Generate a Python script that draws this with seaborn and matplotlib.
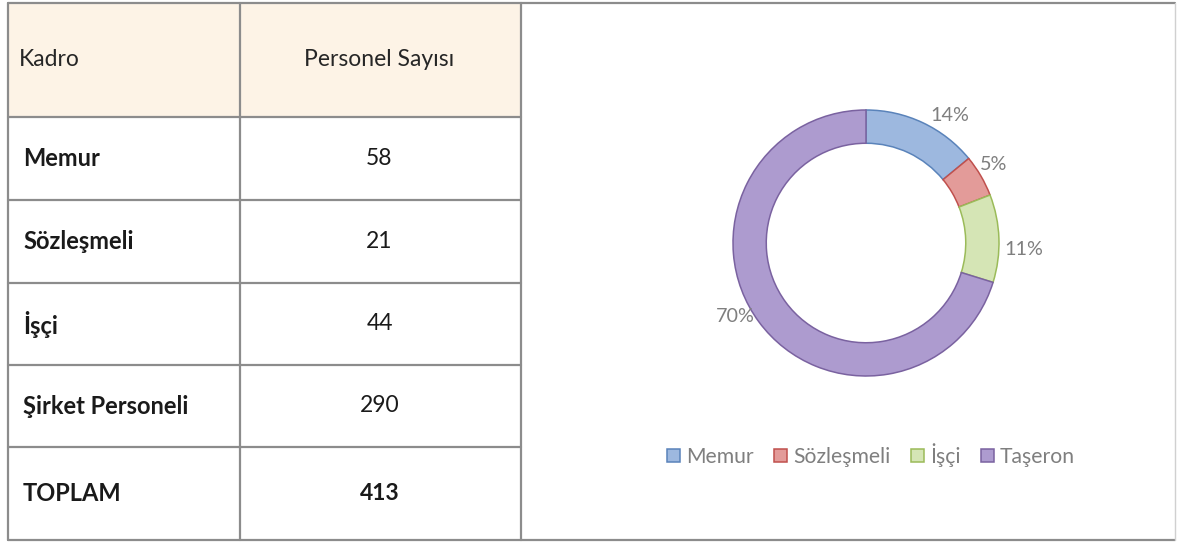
import matplotlib
matplotlib.use("Agg")
import matplotlib.pyplot as plt
from matplotlib.patches import Patch, Rectangle
import seaborn as sns

# ---- data ----
table_header = ["Kadro", "Personel Sayısı"]
row_labels = ["Memur", "Sözleşmeli", "İşçi", "Şirket Personeli", "TOPLAM"]
row_values = [58, 21, 44, 290, 413]

donut_labels = ["Memur", "Sözleşmeli", "İşçi", "Taşeron"]
donut_values = [58, 21, 44, 290]
donut_pct_text = ["14%", "5%", "11%", "70%"]

# ---- style ----
sns.set_theme(style="white")
plt.rcParams["font.family"] = ["Lato", "DejaVu Sans"]

fills = ["#9DB8DF", "#E39B99", "#D5E5B5", "#AD9BCF"]
edges = ["#5A83BA", "#C0504D", "#9BBB59", "#7A62A0"]
grey = "#7F7F7F"
line_c = "#8C8C8C"

W, H = 1179, 543
fig = plt.figure(figsize=(W / 100, H / 100), dpi=100)
fig.patch.set_facecolor("white")

bg = fig.add_axes([0, 0, 1, 1])
bg.set_xlim(0, W)
bg.set_ylim(H, 0)
bg.axis("off")

x_left, x_mid, x_right, x_end = 8, 240, 521, 1175
row_edges = [3, 117, 200, 283, 365, 447, 540]

bg.add_patch(Rectangle((x_left, row_edges[0]), x_right - x_left,
                       row_edges[1] - row_edges[0], facecolor="#FDF3E6",
                       edgecolor="none", zorder=0))
for y in row_edges:
    bg.plot([x_left, x_right], [y, y], color=line_c, lw=1.6, zorder=2)
bg.plot([x_right, x_end], [row_edges[0], row_edges[0]], color=line_c, lw=1.6)
bg.plot([x_right, x_end], [row_edges[-1], row_edges[-1]], color=line_c, lw=1.6)
bg.plot([x_end, x_end], [row_edges[0], row_edges[-1]], color="#D0D0D0", lw=1.0)
for x in (x_left, x_mid, x_right):
    bg.plot([x, x], [row_edges[0], row_edges[-1]], color=line_c, lw=1.6, zorder=2)

txt_c = "#262626"
ymid = (row_edges[0] + row_edges[1]) / 2
bg.text(x_left + 11, ymid, table_header[0], fontsize=16.5, color=txt_c,
        va="center", ha="left")
bg.text((x_mid + x_right) / 2 - 1, ymid, table_header[1], fontsize=16.5,
        color=txt_c, va="center", ha="center")
for i, (lab, val) in enumerate(zip(row_labels, row_values)):
    yc = (row_edges[i + 1] + row_edges[i + 2]) / 2
    bold_val = (lab == "TOPLAM")
    bg.text(x_left + 15, yc, lab, fontsize=17, fontweight="bold",
            color="#1A1A1A", va="center", ha="left")
    bg.text((x_mid + x_right) / 2 - 1, yc, str(val), fontsize=16.5,
            fontweight="bold" if bold_val else "normal",
            color="#1A1A1A", va="center", ha="center")

# ---- donut ----
cx, cy, r = 866, 243, 133
ax = fig.add_axes([(cx - r) / W, (H - cy - r) / H, 2 * r / W, 2 * r / H])
wedges, _ = ax.pie(donut_values, colors=fills, startangle=90, counterclock=False,
                   radius=1.0,
                   wedgeprops=dict(width=0.25, edgecolor="none", linewidth=0))
for w, ec in zip(wedges, edges):
    w.set_edgecolor(ec)
    w.set_linewidth(1.1)
ax.set_xlim(-1, 1)
ax.set_ylim(-1, 1)
ax.set_aspect("equal")
ax.axis("off")

label_pos = [(0.63, 0.96), (0.96, 0.59), (1.19, -0.05), (-0.98, -0.55)]
for txt, (lx, ly) in zip(donut_pct_text, label_pos):
    ax.text(lx, ly, txt, fontsize=14.2, color=grey, ha="center", va="center")

handles = [Patch(facecolor=f, edgecolor=e, linewidth=1.1) for f, e in zip(fills, edges)]
fig.legend(handles, donut_labels, loc="center", bbox_to_anchor=(871 / W, 1 - 455 / H),
           ncol=4, frameon=False, fontsize=15.2, labelcolor=grey,
           handlelength=0.62, handleheight=0.62, handletextpad=0.3,
           columnspacing=0.95)

fig.savefig("out.png", dpi=100, facecolor="white")
